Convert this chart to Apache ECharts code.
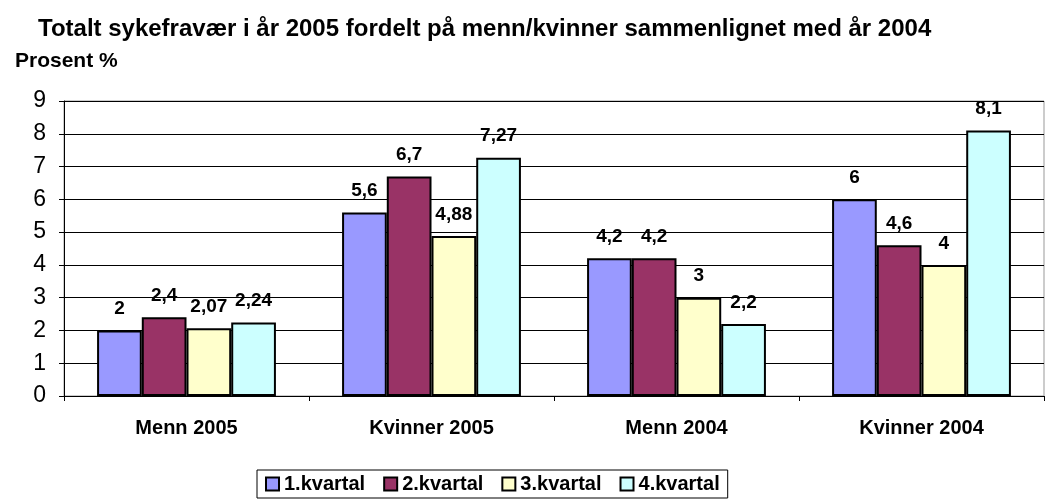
<!DOCTYPE html>
<html>
<head>
<meta charset="utf-8">
<script src="https://cdn.jsdelivr.net/npm/echarts@6/dist/echarts.min.js"></script>
<style>
  html, body { margin: 0; padding: 0; background: #fff; }
  #chart { width: 1050px; height: 500px; }
</style>
</head>
<body>
<div id="chart"></div>
<script>
// kategorier og verdier lest av figuren
const categories = ["Menn 2005", "Kvinner 2005", "Menn 2004", "Kvinner 2004"];
const kvartal1 = [2, 5.6, 4.2, 6];
const kvartal2 = [2.4, 6.7, 4.2, 4.6];
const kvartal3 = [2.07, 4.88, 3, 4];
const kvartal4 = [2.24, 7.27, 2.2, 8.1];
const seriesNames = ["1.kvartal", "2.kvartal", "3.kvartal", "4.kvartal"];
const colors = ["#9999ff", "#993366", "#ffffcc", "#ccffff"];

const font = "'Liberation Sans', Arial, sans-serif";

function makeSeries(name, data, color) {
  return {
    name: name,
    type: "bar",
    data: data,
    barGap: "0%",
    barCategoryGap: "27%",
    itemStyle: { color: color, borderColor: "#000", borderWidth: 2 },
    label: {
      show: true,
      position: "top",
      distance: 12,
      color: "#000",
      fontFamily: font,
      fontWeight: "bold",
      fontSize: 19,
      formatter: p => String(p.value).replace(".", ",")
    }
  };
}

const chart = echarts.init(document.getElementById("chart"));
chart.setOption({
  animation: false,
  textStyle: { fontFamily: font },
  title: [
    {
      text: "Totalt sykefravær i år 2005 fordelt på menn/kvinner sammenlignet med år 2004",
      left: 33, top: 12,
      textStyle: { fontSize: 24, fontWeight: "bold", color: "#000", fontFamily: font }
    },
    {
      text: "Prosent %",
      left: 10, top: 46,
      textStyle: { fontSize: 21, fontWeight: "bold", color: "#000", fontFamily: font }
    }
  ],
  legend: {
    data: seriesNames,
    left: 257, top: 470,
    itemWidth: 13, itemHeight: 13,
    itemGap: 18,
    icon: "rect",
    borderColor: "#000", borderWidth: 1,
    padding: [4, 8, 4, 8],
    itemStyle: { borderColor: "#000", borderWidth: 2 },
    textStyle: { fontSize: 20, fontWeight: "bold", color: "#000", fontFamily: font }
  },
  grid: {
    left: 64, right: 6, top: 101, bottom: 104,
    show: true, borderColor: "#999", borderWidth: 1
  },
  xAxis: {
    type: "category",
    data: categories,
    axisLine: { lineStyle: { color: "#000", width: 1 } },
    axisTick: { show: true, length: 5, lineStyle: { color: "#000" } },
    axisLabel: { margin: 22, fontSize: 20, fontWeight: "bold", color: "#000", fontFamily: font }
  },
  yAxis: {
    type: "value",
    min: 0, max: 9, interval: 1,
    axisLine: { show: true, lineStyle: { color: "#000", width: 1 } },
    axisTick: { show: true, length: 5, lineStyle: { color: "#000" } },
    splitLine: { lineStyle: { color: "#000", width: 1 } },
    axisLabel: { margin: 18, fontSize: 23, color: "#000", fontFamily: font }
  },
  series: [
    makeSeries(seriesNames[0], kvartal1, colors[0]),
    makeSeries(seriesNames[1], kvartal2, colors[1]),
    makeSeries(seriesNames[2], kvartal3, colors[2]),
    makeSeries(seriesNames[3], kvartal4, colors[3])
  ]
});
</script>
</body>
</html>
